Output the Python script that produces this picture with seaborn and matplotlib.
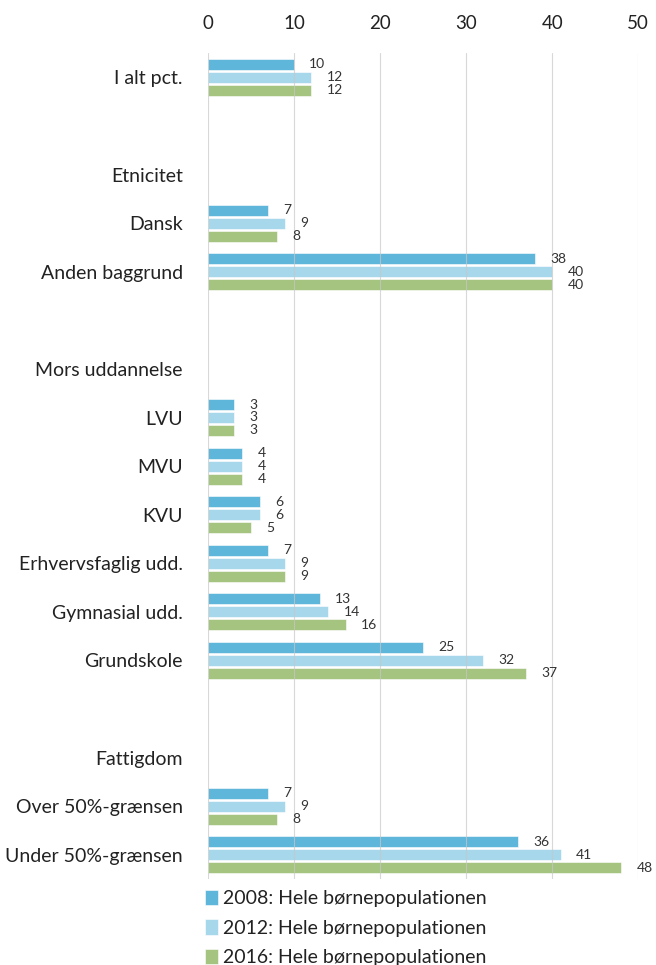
import numpy as np
import pandas as pd
import matplotlib.pyplot as plt
import seaborn as sns

# Row labels, top to bottom (blank rows / headings carry no bars)
rows = ["I alt pct.", "", "Etnicitet", "Dansk", "Anden baggrund", " ",
        "Mors uddannelse", "LVU", "MVU", "KVU", "Erhvervsfaglig udd.",
        "Gymnasial udd.", "Grundskole", "  ", "Fattigdom",
        "Over 50%-grænsen", "Under 50%-grænsen"]

bar_rows = ["I alt pct.", "Dansk", "Anden baggrund", "LVU", "MVU", "KVU",
            "Erhvervsfaglig udd.", "Gymnasial udd.", "Grundskole",
            "Over 50%-grænsen", "Under 50%-grænsen"]
v2008 = [10, 7, 38, 3, 4, 6, 7, 13, 25, 7, 36]
v2012 = [12, 9, 40, 3, 4, 6, 9, 14, 32, 9, 41]
v2016 = [12, 8, 40, 3, 4, 5, 9, 16, 37, 8, 48]

series = ["2008: Hele børnepopulationen",
          "2012: Hele børnepopulationen",
          "2016: Hele børnepopulationen"]
colors = ["#5eb6da", "#a6d7ea", "#a4c47f"]

df = pd.DataFrame({
    "group": bar_rows * 3,
    "serie": np.repeat(series, len(bar_rows)),
    "value": v2008 + v2012 + v2016,
})

sns.set_theme(style="white")
plt.rcParams["font.family"] = ["Lato", "DejaVu Sans"]

fig = plt.figure(figsize=(6.56, 9.65), dpi=100)
ax = fig.add_axes([0.317, 0.089, 0.656, 0.856])

sns.barplot(data=df, y="group", x="value", hue="serie", order=rows,
            hue_order=series, palette=colors, width=0.8, gap=0.15,
            orient="h", legend=True, ax=ax, saturation=1,
            edgecolor="white", linewidth=0.4)

# value labels a bit right of each bar end, nudged slightly down
for c in ax.containers:
    for t in ax.bar_label(c, fmt="%d", padding=11, fontsize=10, color="#333333"):
        t.set_y(t.get_position()[1] + 0.03)

ax.set_xlim(0, 50)
ax.set_xticks(range(0, 51, 10))
ax.xaxis.tick_top()
ax.tick_params(axis="x", length=0, pad=15, labelsize=13.5, colors="#222222")
ax.tick_params(axis="y", length=0, pad=18, labelsize=14, colors="#222222")
ax.set_xlabel("")
ax.set_ylabel("")
ax.grid(axis="x", color="#c8c8c8", linewidth=0.8, alpha=0.7)
ax.set_axisbelow(False)
for s in ax.spines.values():
    s.set_visible(False)

handles, labels = ax.get_legend_handles_labels()
ax.get_legend().remove()
fig.legend(handles, labels, loc="upper left", bbox_to_anchor=(0.3, 0.086),
           frameon=False, fontsize=14, handlelength=0.7, handleheight=0.85,
           handletextpad=0.25, labelspacing=0.62, borderaxespad=0,
           labelcolor="#222222")

fig.savefig("out.png", dpi=100)
